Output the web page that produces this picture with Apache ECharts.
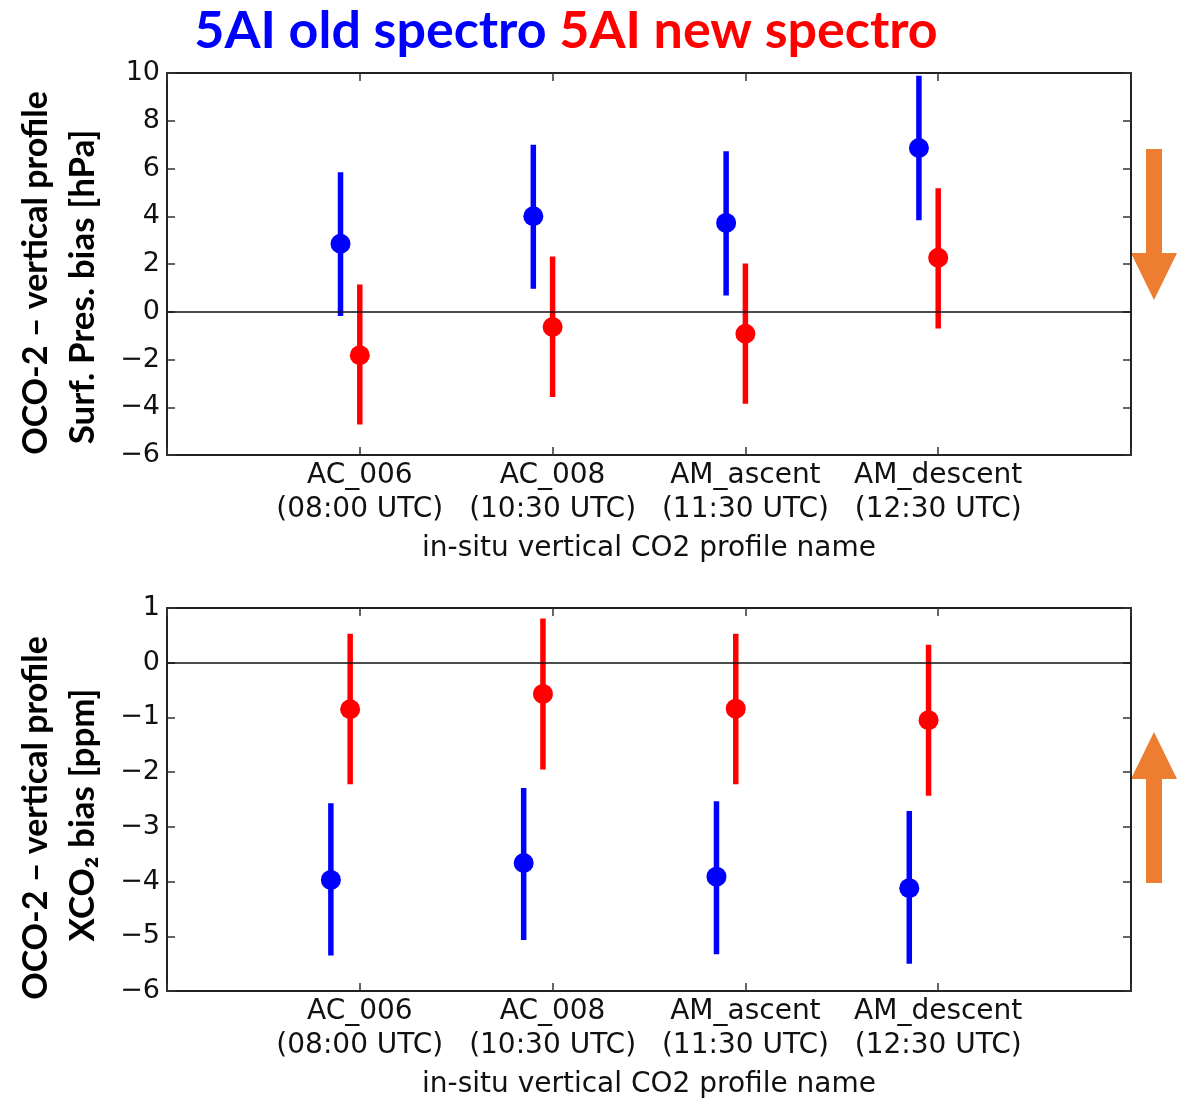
<!DOCTYPE html>
<html>
<head>
<meta charset="utf-8">
<script src="https://cdn.jsdelivr.net/npm/echarts@6/dist/echarts.min.js"></script>
<style>
    html, body { margin: 0; padding: 0; background: #fff; }
    #chart { width: 1179px; height: 1102px; }
</style>
</head>
<body>
<div id="chart"></div>
<script>
// profile names (x positions 1..4)
const categories = [
    'AC_006\n(08:00 UTC)',
    'AC_008\n(10:30 UTC)',
    'AM_ascent\n(11:30 UTC)',
    'AM_descent\n(12:30 UTC)'
];

// surface pressure bias [hPa]
const presOldMid = [2.85, 4.0, 3.72, 6.86];
const presOldLow = [-0.18, 0.96, 0.68, 3.83];
const presOldHigh = [5.84, 7.0, 6.72, 9.89];
const presNewMid = [-1.82, -0.64, -0.92, 2.26];
const presNewLow = [-4.72, -3.57, -3.85, -0.70];
const presNewHigh = [1.14, 2.31, 2.02, 5.17];

// XCO2 bias [ppm]
const xco2OldMid = [-3.97, -3.66, -3.91, -4.12];
const xco2OldLow = [-5.35, -5.07, -5.33, -5.50];
const xco2OldHigh = [-2.57, -2.29, -2.53, -2.71];
const xco2NewMid = [-0.85, -0.57, -0.84, -1.05];
const xco2NewLow = [-2.22, -1.95, -2.22, -2.43];
const xco2NewHigh = [0.53, 0.81, 0.53, 0.33];

const BLUE = '#0000ff';
const RED = '#ff0000';
const ORANGE = '#ed7d31';
const AXIS_FONT = 'DejaVu Sans';
const TITLE_FONT = 'Lato';

const chart = echarts.init(document.getElementById('chart'));

// x value of each point: category index + small dodge
const makeRows = (mid, low, high, shift) =>
    mid.map((v, i) => [i + 1 + shift, v, low[i], high[i]]);

const minusFmt = v => String(v).replace('-', '\u2212');

const frameLine = { show: true, onZero: false, lineStyle: { color: '#222', width: 2 } };
const tickIn = { show: true, inside: true, length: 8, lineStyle: { color: '#333', width: 1.5 } };

const xAxisPair = (gridIndex) => [
    {
        type: 'value', gridIndex, position: 'bottom', min: 0, max: 5, interval: 1,
        axisLine: frameLine, axisTick: tickIn, splitLine: { show: false },
        axisLabel: {
            margin: 4, fontFamily: AXIS_FONT, fontSize: 28, lineHeight: 34, color: '#111',
            formatter: v => categories[v - 1] || ''
        },
        name: 'in-situ vertical CO2 profile name', nameLocation: 'middle', nameGap: 80,
        nameTextStyle: { fontFamily: AXIS_FONT, fontSize: 28, color: '#111' }
    },
    {
        type: 'value', gridIndex, position: 'top', min: 0, max: 5, interval: 1,
        axisLine: frameLine, axisTick: tickIn, splitLine: { show: false },
        axisLabel: { show: false }
    }
];

const yAxisPair = (gridIndex, min, max, interval) => [
    {
        type: 'value', gridIndex, position: 'left', min, max, interval,
        axisLine: frameLine, axisTick: tickIn, splitLine: { show: false },
        axisLabel: { margin: 7, fontFamily: AXIS_FONT, fontSize: 27, color: '#111', formatter: minusFmt }
    },
    {
        type: 'value', gridIndex, position: 'right', min, max, interval,
        axisLine: frameLine, axisTick: tickIn, splitLine: { show: false },
        axisLabel: { show: false }
    }
];

// error bar + dot
const errorSeries = (rows, color, xAxisIndex, yAxisIndex) => [
    {
        type: 'custom', xAxisIndex, yAxisIndex, data: rows, z: 3,
        encode: { x: 0, y: [1, 2, 3] },
        renderItem: (params, api) => {
            const top = api.coord([api.value(0), api.value(3)]);
            const bot = api.coord([api.value(0), api.value(2)]);
            return {
                type: 'line',
                shape: { x1: top[0], y1: top[1], x2: bot[0], y2: bot[1] },
                style: { stroke: color, lineWidth: 5.5 }
            };
        }
    },
    {
        type: 'scatter', xAxisIndex, yAxisIndex, z: 4,
        data: rows.map(r => [r[0], r[1]]),
        symbol: 'circle', symbolSize: 20,
        itemStyle: { color, opacity: 1 }
    }
];

const zeroLine = (xAxisIndex, yAxisIndex) => ({
    type: 'line', xAxisIndex, yAxisIndex, data: [], z: 2,
    markLine: {
        silent: true, symbol: 'none', label: { show: false },
        lineStyle: { color: '#111', width: 1.5, type: 'solid' },
        data: [{ yAxis: 0 }]
    }
});

const arrow = (x, top, bottom, down) => {
    const sx1 = x - 8, sx2 = x + 8, hx1 = x - 23, hx2 = x + 23, hh = 47;
    const pts = down
        ? [[sx1, top], [sx2, top], [sx2, bottom - hh], [hx2, bottom - hh], [x, bottom], [hx1, bottom - hh], [sx1, bottom - hh]]
        : [[sx1, bottom], [sx2, bottom], [sx2, top + hh], [hx2, top + hh], [x, top], [hx1, top + hh], [sx1, top + hh]];
    return { type: 'polygon', shape: { points: pts }, style: { fill: ORANGE } };
};

const yTitle = (x, y, text, size) => ({
    type: 'text', x, y, rotation: Math.PI / 2,
    style: {
        text, align: 'center', verticalAlign: 'middle',
        font: 'bold ' + size + 'px ' + TITLE_FONT, fill: '#000'
    }
});

const option = {
    backgroundColor: '#fff',
    animation: false,
    grid: [
        { left: 167, top: 73, width: 964, height: 382 },
        { left: 167, top: 608, width: 964, height: 383 }
    ],
    xAxis: [...xAxisPair(0), ...xAxisPair(1)],
    yAxis: [...yAxisPair(0, -6, 10, 2), ...yAxisPair(1, -6, 1, 1)],
    series: [
        zeroLine(0, 0),
        ...errorSeries(makeRows(presOldMid, presOldLow, presOldHigh, -0.1), BLUE, 0, 0),
        ...errorSeries(makeRows(presNewMid, presNewLow, presNewHigh, 0), RED, 0, 0),
        zeroLine(2, 2),
        ...errorSeries(makeRows(xco2NewMid, xco2NewLow, xco2NewHigh, -0.05), RED, 2, 2),
        ...errorSeries(makeRows(xco2OldMid, xco2OldLow, xco2OldHigh, -0.15), BLUE, 2, 2)
    ],
    graphic: [
        {
            type: 'text', x: 566, y: 31,
            style: {
                text: '{b|5AI old spectro }{r|5AI new spectro}',
                align: 'center', verticalAlign: 'middle',
                rich: {
                    b: { fill: BLUE, fontFamily: TITLE_FONT, fontWeight: 'bold', fontSize: 52 },
                    r: { fill: RED, fontFamily: TITLE_FONT, fontWeight: 'bold', fontSize: 52 }
                }
            }
        },
        yTitle(36, 273, 'OCO-2 \u2013 vertical profile', 34),
        yTitle(83, 287, 'Surf. Pres. bias [hPa]', 35),
        yTitle(36, 818, 'OCO-2 \u2013 vertical profile', 34),
        yTitle(83, 815, 'XCO\u2082 bias [ppm]', 35),
        arrow(1154, 149, 300, true),
        arrow(1154, 732, 883, false)
    ]
};

chart.setOption(option);
</script>
</body>
</html>
